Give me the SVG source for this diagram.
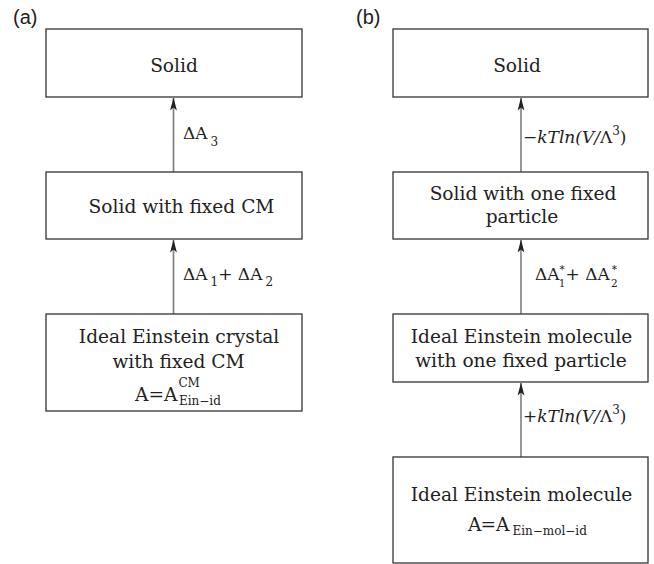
<svg xmlns="http://www.w3.org/2000/svg" width="654" height="564" viewBox="0 0 654 564">
<style>
.box{fill:#fff;stroke:#333;stroke-width:1.3}
.t{font-family:"DejaVu Serif","Liberation Serif",serif;font-size:18.6px;fill:#222;text-anchor:middle}
.l{font-family:"DejaVu Serif","Liberation Serif",serif;font-size:17px;fill:#222}
.s{font-size:12px}
.s2{font-size:10.5px}
.p{font-family:"Liberation Sans",Arial,sans-serif;font-size:20px;fill:#222}
.ca{stroke:#808080;stroke-width:1.7;fill:none}
.cb{stroke:#444;stroke-width:1.1;fill:none}
</style>
<defs>
<marker id="ah" markerWidth="14" markerHeight="8" refX="13.5" refY="4" orient="auto" markerUnits="userSpaceOnUse" viewBox="0 0 14 8">
<path d="M14,4 L1,0.6 L4,4 L1,7.4 Z" fill="#222"/>
</marker>
</defs>
<text class="p" x="13" y="24">(a)</text>
<text class="p" x="356" y="24">(b)</text>
<g id="connectors">
<line class="ca" x1="173.5" y1="172" x2="173.5" y2="98" marker-end="url(#ah)"/>
<line class="ca" x1="173.5" y1="314" x2="173.5" y2="240" marker-end="url(#ah)"/>
<line class="cb" x1="521" y1="172" x2="521" y2="98" marker-end="url(#ah)"/>
<line class="cb" x1="521" y1="314" x2="521" y2="240" marker-end="url(#ah)"/>
<line class="cb" x1="521" y1="457" x2="521" y2="383" marker-end="url(#ah)"/>
<text class="l" x="183" y="139">ΔA<tspan class="s" dx="3" dy="7">3</tspan></text>
<text class="l" x="183" y="280">ΔA<tspan class="s" dx="3" dy="6">1</tspan><tspan dy="-6">+ ΔA</tspan><tspan class="s" dx="3" dy="6">2</tspan></text>
<text class="l" x="523" y="143">−<tspan font-style="italic">kTln(V/</tspan>Λ<tspan class="s" dy="-8">3</tspan><tspan dy="8">)</tspan></text>
<text class="l" x="535" y="280">ΔA<tspan class="s2" dy="-7">*</tspan><tspan class="s2" dx="-6" dy="14">1</tspan><tspan dy="-7">+ ΔA</tspan><tspan class="s2" dx="2" dy="-7">*</tspan><tspan class="s2" dx="-6" dy="14">2</tspan></text>
<text class="l" x="523" y="422">+<tspan font-style="italic">kTln(V/</tspan>Λ<tspan class="s" dy="-8">3</tspan><tspan dy="8">)</tspan></text>
</g>
<g id="a-solid">
<rect class="box" x="46" y="29" width="256" height="68"/>
<text class="t" x="174" y="72">Solid</text>
</g>
<g id="a-solid-fixed-cm">
<rect class="box" x="46" y="172" width="256" height="67"/>
<text class="t" x="181.5" y="213">Solid with fixed CM</text>
</g>
<g id="a-ideal-einstein-crystal">
<rect class="box" x="46" y="314" width="256" height="97"/>
<text class="t" x="179" y="343">Ideal Einstein crystal</text>
<text class="t" x="178.5" y="368">with fixed CM</text>
<text class="t" x="135" y="401" style="text-anchor:start">A=A<tspan class="s" dx="1" dy="-14">CM</tspan><tspan class="s" dx="-21" dy="18">Ein−id</tspan></text>
</g>
<g id="b-solid">
<rect class="box" x="393" y="29" width="255" height="68"/>
<text class="t" x="517" y="72">Solid</text>
</g>
<g id="b-solid-one-fixed">
<rect class="box" x="393" y="172" width="255" height="67"/>
<text class="t" x="523" y="200">Solid with one fixed</text>
<text class="t" x="522" y="223">particle</text>
</g>
<g id="b-ideal-molecule-fixed">
<rect class="box" x="393" y="314" width="255" height="68"/>
<text class="t" x="521.5" y="343">Ideal Einstein molecule</text>
<text class="t" x="521" y="367">with one fixed particle</text>
</g>
<g id="b-ideal-molecule">
<rect class="box" x="393" y="457" width="255" height="106"/>
<text class="t" x="521.5" y="501">Ideal Einstein molecule</text>
<text class="t" x="468" y="531" style="text-anchor:start">A<tspan dx="-1">=</tspan>A<tspan class="s" dx="3" dy="4">Ein−mol−id</tspan></text>
</g>
</svg>
